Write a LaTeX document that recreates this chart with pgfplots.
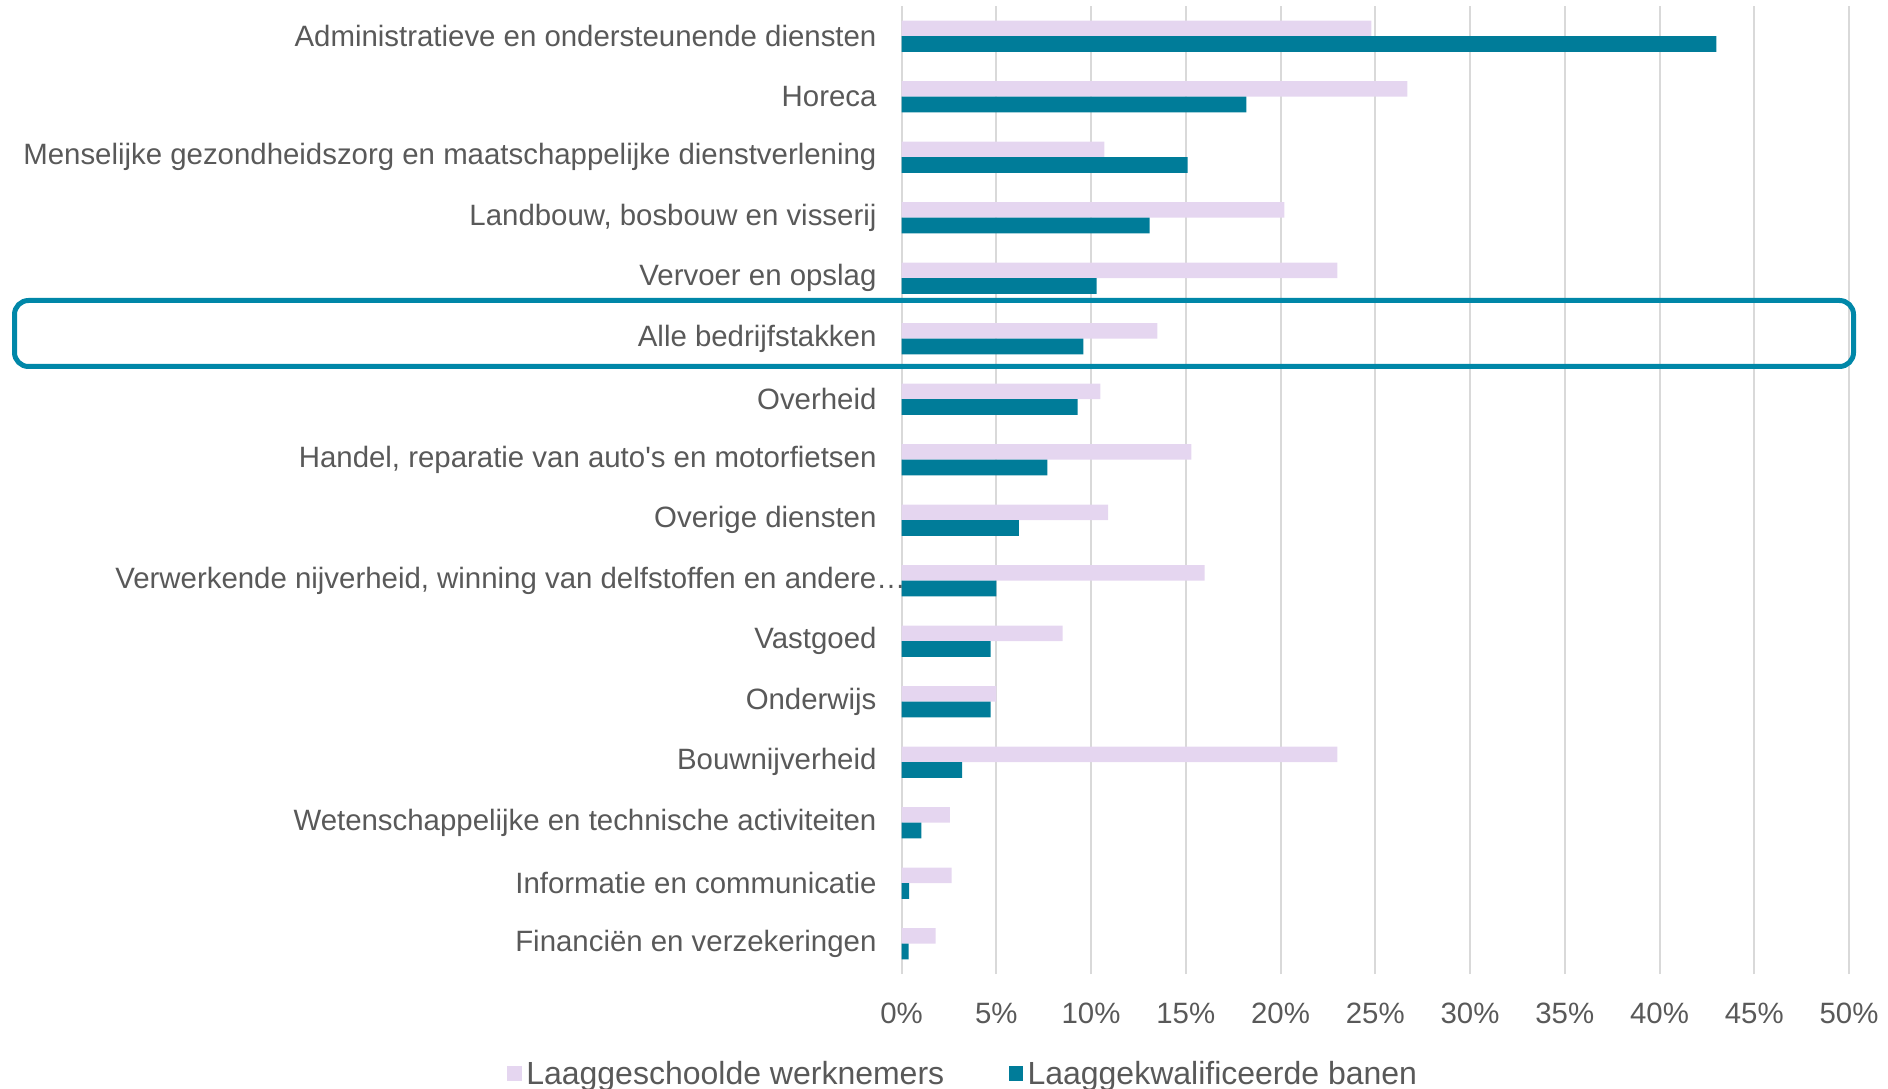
\documentclass[border=0pt]{standalone}
\usepackage{pgfplots}
\pgfplotsset{compat=1.18}
\usepackage{fontspec}
\setmainfont{Liberation Sans}
\newfontfamily\nomap{Liberation Sans}
\definecolor{lightbar}{HTML}{E5D6F0}
\definecolor{darkbar}{HTML}{007C99}
\definecolor{boxcol}{HTML}{0087A8}
\definecolor{txt}{HTML}{595959}
\definecolor{gridc}{HTML}{D9D9D9}
\begin{document}
\begin{tikzpicture}
\useasboundingbox (0,0) rectangle (944bp,544.5bp);
\begin{axis}[
  at={(450.75bp,57.5bp)}, anchor=south west,
  scale only axis, width=473.75bp, height=484bp,
  xmin=0, xmax=50, ymin=-0.5, ymax=15.5,
  xbar, bar width=7.85bp,
  axis line style={draw=none},
  major tick length=0pt,
  xtick={0,5,...,50},
  xticklabel={\pgfmathprintnumber{\tick}\%},
  ytick={0,...,15},
  yticklabels={Financiën en verzekeringen, Informatie en communicatie, {Wetenschappelijke en technische activiteiten\ }, Bouwnijverheid, Onderwijs, Vastgoed, {Verwerkende nijverheid, winning van delfstoffen en andere\rlap{…}}, Overige diensten, {Handel, reparatie van {\nomap auto's} en motorfietsen}, Overheid, Alle bedrijfstakken, Vervoer en opslag, {Landbouw, bosbouw en visserij}, Menselijke gezondheidszorg en maatschappelijke dienstverlening, Horeca, Administratieve en ondersteunende diensten},
  xmajorgrids, grid style={draw=gridc, line width=1bp},
  tick label style={font=\fontsize{14.7bp}{17bp}\selectfont, text=txt},
  /pgf/number format/assume math mode=true,
  xticklabel style={yshift=-11bp},
  yticklabel style={xshift=-9bp},
  legend columns=2,
  legend style={draw=none, at={(0.0665,-0.1033)}, anchor=center, font=\fontsize{16bp}{19bp}\selectfont, text=txt, /tikz/every even column/.style={column sep=30bp}, nodes={inner sep=2.2bp}},
]
\addplot[fill=lightbar, draw=none, bar shift=3.925bp,
  legend image code/.code={\fill[lightbar] (0bp,-3.75bp) rectangle (7.2bp,3.75bp);}]
  coordinates {(1.8,0) (2.65,1) (2.55,2) (23.0,3) (5.0,4) (8.5,5) (16.0,6) (10.9,7) (15.3,8) (10.5,9) (13.5,10) (23.0,11) (20.2,12) (10.7,13) (26.7,14) (24.8,15)};
\addlegendentry{Laaggeschoolde werknemers}
\addplot[fill=darkbar, draw=none, bar shift=-3.925bp,
  legend image code/.code={\fill[darkbar] (0bp,-3.75bp) rectangle (7.2bp,3.75bp);}]
  coordinates {(0.37,0) (0.4,1) (1.05,2) (3.2,3) (4.7,4) (4.7,5) (5.0,6) (6.2,7) (7.7,8) (9.3,9) (9.6,10) (10.3,11) (13.1,12) (15.1,13) (18.2,14) (43.0,15)};
\addlegendentry{Laaggekwalificeerde banen}
\end{axis}
\draw[boxcol, line width=2.5bp, rounded corners=7bp] (7.25bp,361.25bp) rectangle (926.75bp,394.25bp);
\end{tikzpicture}
\end{document}
